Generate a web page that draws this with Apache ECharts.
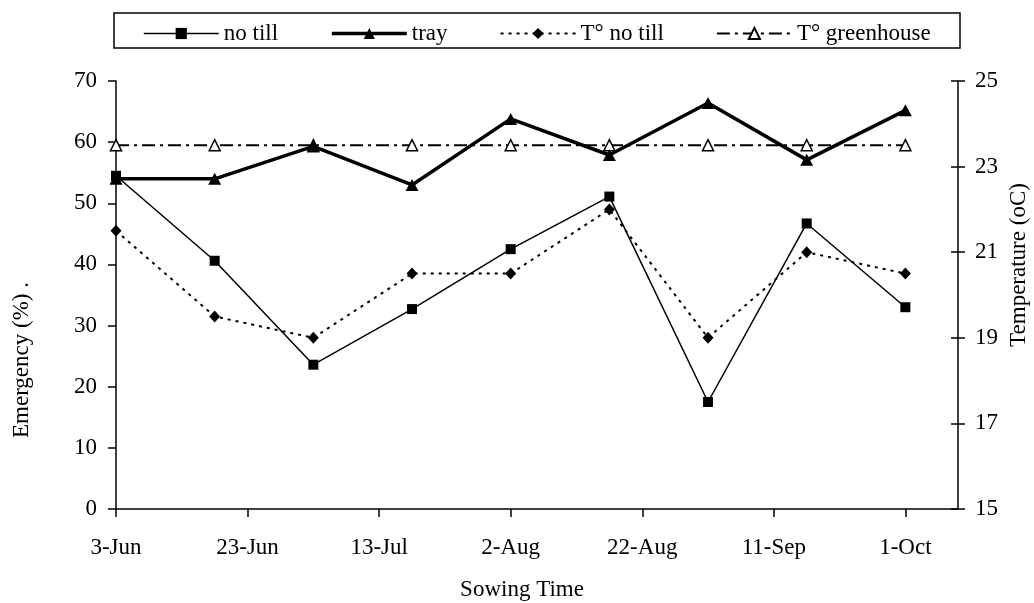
<!DOCTYPE html>
<html>
<head>
<meta charset="utf-8">
<script src="https://cdn.jsdelivr.net/npm/echarts@6/dist/echarts.min.js"></script>
<style>html,body{margin:0;padding:0;background:#fff}#c{width:1034px;height:603px}</style>
</head>
<body>
<div id="c"></div>
<script>
// Sowing dates (month-day), all same season
var sowingDates = ['06-03','06-18','07-03','07-18','08-02','08-17','09-01','09-16','10-01'];
// x-axis tick labels and their dates
var tickLabels = ['3-Jun','23-Jun','13-Jul','2-Aug','22-Aug','11-Sep','1-Oct'];
var tickDates = ['06-03','06-23','07-13','08-02','08-22','09-11','10-01'];
var axisEndDate = '10-09';
// Emergency (%)
var noTill = [54.5, 40.6, 23.6, 32.7, 42.5, 51.1, 17.5, 46.7, 33.0];
var tray = [54.0, 54.0, 59.3, 53.0, 63.8, 57.9, 66.4, 57.1, 65.2];
// Temperature (oC)
var tNoTill = [21.5, 19.5, 19.0, 20.5, 20.5, 22.0, 19.0, 21.0, 20.5];
var tGreenhouse = [23.5, 23.5, 23.5, 23.5, 23.5, 23.5, 23.5, 23.5, 23.5];

function dayNum(md){
  var p = md.split('-');
  return Math.round((Date.UTC(2001, +p[0]-1, +p[1]) - Date.UTC(2001, 5, 3)) / 86400000);
}
var xs = sowingDates.map(dayNum);
var tickDays = tickDates.map(dayNum);
var xMax = dayNum(axisEndDate);
function pairs(vals){ return vals.map(function(v,i){ return [xs[i], v]; }); }

var FONT = 'Liberation Serif';
var FS = 23;
var chart = echarts.init(document.getElementById('c'));
chart.setOption({
  animation: false,
  backgroundColor: '#fff',
  textStyle: { fontFamily: FONT, color: '#000' },
  grid: { left: 116, right: 76, top: 81, bottom: 94 },
  legend: {
    left: 138, top: 17,
    itemWidth: 75, itemHeight: 14, itemGap: 52,
    textStyle: { fontFamily: FONT, fontSize: FS, color: '#000' },
    data: [
      { name: 'no till', lineStyle: { width: 1.5 } },
      { name: 'tray', lineStyle: { width: 3.5 } },
      { name: 'T\u00b0 no till', lineStyle: { width: 2 } },
      { name: 'T\u00b0 greenhouse', lineStyle: { width: 2 } }
    ]
  },
  graphic: [
    { type: 'rect', shape: { x: 114, y: 13, width: 846, height: 35 },
      style: { fill: 'none', stroke: '#000', lineWidth: 1.5 }, silent: true },
    { type: 'text', x: 522, y: 590,
      style: { text: 'Sowing Time', font: FS + 'px "' + FONT + '"', fill: '#000', align: 'center', verticalAlign: 'middle' } },
    { type: 'text', x: 22, y: 360, rotation: Math.PI / 2,
      style: { text: 'Emergency (%) .', font: FS + 'px "' + FONT + '"', fill: '#000', align: 'center', verticalAlign: 'middle' } },
    { type: 'text', x: 1019, y: 265, rotation: Math.PI / 2,
      style: { text: 'Temperature (oC)', font: FS + 'px "' + FONT + '"', fill: '#000', align: 'center', verticalAlign: 'middle' } }
  ],
  xAxis: {
    type: 'value', min: 0, max: xMax,
    axisLine: { show: true, lineStyle: { color: '#000', width: 1.5 } },
    axisTick: { show: true, length: 8, lineStyle: { color: '#000', width: 1.5 }, customValues: tickDays },
    axisLabel: { fontFamily: FONT, fontSize: FS, color: '#000', margin: 27, customValues: tickDays,
      formatter: function(v){ var i = tickDays.indexOf(Math.round(v)); return i >= 0 ? tickLabels[i] : ''; } },
    splitLine: { show: false }
  },
  yAxis: [
    { type: 'value', min: 0, max: 70, interval: 10, position: 'left',
      axisLine: { show: true, lineStyle: { color: '#000', width: 1.5 } },
      axisTick: { show: true, length: 8, lineStyle: { color: '#000', width: 1.5 } },
      axisLabel: { fontFamily: FONT, fontSize: FS, color: '#000', margin: 19 },
      splitLine: { show: false } },
    { type: 'value', min: 15, max: 25, interval: 2, position: 'right',
      axisLine: { show: true, lineStyle: { color: '#000', width: 1.5 } },
      axisTick: { show: true, length: 7, lineStyle: { color: '#000', width: 1.5 } },
      axisLabel: { fontFamily: FONT, fontSize: FS, color: '#000', margin: 17 },
      splitLine: { show: false } },
    { type: 'value', min: 15, max: 25, interval: 2, position: 'right',
      axisLine: { show: false },
      axisTick: { show: true, inside: true, length: 7, lineStyle: { color: '#000', width: 1.5 } },
      axisLabel: { show: false },
      splitLine: { show: false } }
  ],
  series: [
    { name: 'no till', type: 'line', yAxisIndex: 0, data: pairs(noTill),
      symbol: 'rect', symbolSize: 10, z: 4,
      lineStyle: { color: '#000', width: 1.5 }, itemStyle: { color: '#000' } },
    { name: 'tray', type: 'line', yAxisIndex: 0, data: pairs(tray),
      symbol: 'triangle', symbolSize: [13, 12], z: 5,
      lineStyle: { color: '#000', width: 3.5 }, itemStyle: { color: '#000' } },
    { name: 'T\u00b0 no till', type: 'line', yAxisIndex: 1, data: pairs(tNoTill),
      symbol: 'diamond', symbolSize: [11, 12], z: 3,
      lineStyle: { color: '#000', width: 2, type: [3, 5] }, itemStyle: { color: '#000' } },
    { name: 'T\u00b0 greenhouse', type: 'line', yAxisIndex: 1, data: pairs(tGreenhouse),
      symbol: 'triangle', symbolSize: [11, 11], z: 2, showAllSymbol: true,
      lineStyle: { color: '#000', width: 2, type: [13, 5, 3, 5] },
      itemStyle: { color: '#fff', borderColor: '#000', borderWidth: 1.5 } }
  ]
});
</script>
</body>
</html>
